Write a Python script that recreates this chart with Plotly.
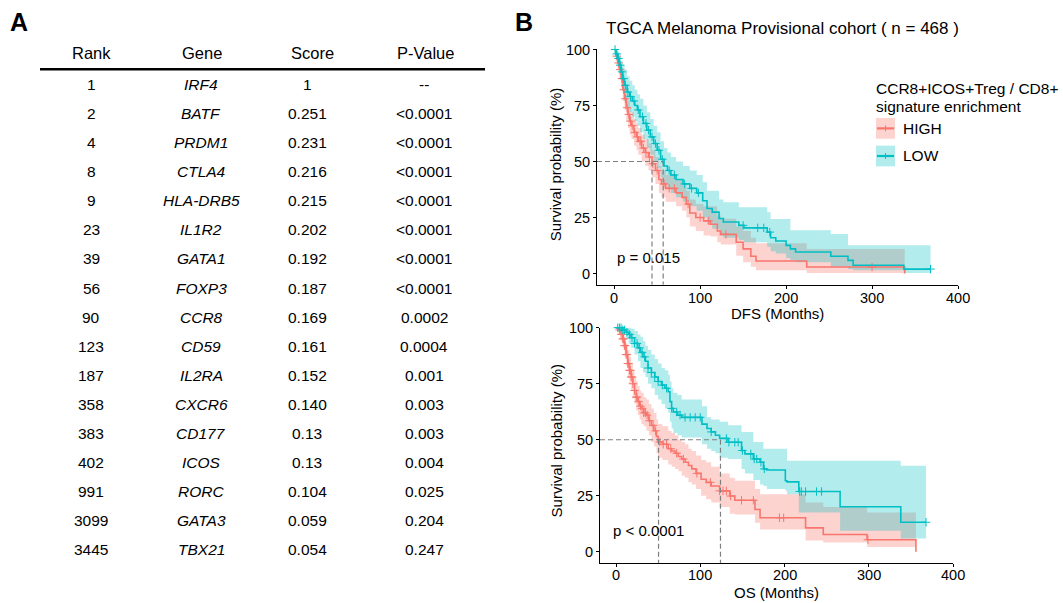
import numpy as np
import plotly.graph_objects as go

W, H = 1063, 603

# ---------------- Panel A : table ----------------
table_header = ["Rank", "Gene", "Score", "P-Value"]
ranks = ["1", "2", "4", "8", "9", "23", "39", "56", "90", "123", "187", "358", "383", "402", "991", "3099", "3445"]
genes = ["IRF4", "BATF", "PRDM1", "CTLA4", "HLA-DRB5", "IL1R2", "GATA1", "FOXP3", "CCR8", "CD59",
         "IL2RA", "CXCR6", "CD177", "ICOS", "RORC", "GATA3", "TBX21"]
scores = ["1", "0.251", "0.231", "0.216", "0.215", "0.202", "0.192", "0.187", "0.169", "0.161",
          "0.152", "0.140", "0.13", "0.13", "0.104", "0.059", "0.054"]
pvalues = ["--", "<0.0001", "<0.0001", "<0.0001", "<0.0001", "<0.0001", "<0.0001", "<0.0001",
           "0.0002", "0.0004", "0.001", "0.003", "0.003", "0.004", "0.025", "0.204", "0.247"]

# ---------------- Panel B : survival curves (values in %) ----------------
x_ticks = [0, 100, 200, 300, 400]
y_ticks = [0, 25, 50, 75, 100]

# DFS, HIGH group
dfs_high_t = [0, 2, 4, 6, 8, 10, 12, 14, 16, 18, 20, 23, 26, 28, 32, 36, 40, 44, 48, 52, 55, 60, 72, 79, 84, 88,
              95, 104, 112, 120, 124, 142, 150, 159, 165, 224, 338]
dfs_high_s = [100, 97, 94, 91, 87, 82, 78, 74, 71, 68, 66, 63, 61, 59, 56, 54, 52, 49, 46, 42, 40, 38, 36, 34, 31, 27,
              25, 23.5, 22, 19, 17.5, 14, 11, 7.7, 5.6, 2.9, 0]
dfs_high_up = [100, 99, 97, 94, 91, 87, 83, 80, 77, 74, 72, 69, 67, 65, 62, 60, 58, 55, 52, 48, 46, 44, 42, 40, 37, 33,
               31, 30, 30, 26, 24.5, 21, 19, 16, 13.5, 11, 11]
dfs_high_lo = [100, 95, 91, 87, 83, 77, 73, 68, 65, 62, 60, 57, 55, 53, 50, 48, 46, 43, 40, 36, 34, 32, 30, 28, 25, 21,
               19, 17, 16.5, 14, 13, 8, 5, 3, 1.5, 0.3, 0]
dfs_high_cens = [3, 5, 7, 9, 11, 13, 15, 17, 19, 21, 24, 27, 30, 31, 34, 37, 41, 45, 50, 58, 64, 70, 86, 100, 110, 130, 300]

# DFS, LOW group
dfs_low_t = [0, 2, 4, 6, 8, 10, 12, 15, 18, 21, 24, 27, 30, 34, 38, 42, 46, 50, 54, 58, 62, 66, 72, 80, 88, 96,
             103, 108, 114, 122, 127, 145, 151, 178, 182, 188, 200, 205, 211, 252, 272, 278, 337, 368]
dfs_low_s = [100, 98, 96, 93, 90, 87, 84, 81, 79, 77, 75, 73, 70, 67, 64, 61, 58, 55, 51, 48, 46, 44, 42, 40, 38, 36,
             32.5, 29, 27.4, 24.6, 23, 21.5, 20.4, 18.5, 16, 14.5, 12.6, 11, 9.6, 7.7, 5.9, 3.7, 2, 2]
dfs_low_up = [100, 100, 99, 97, 95, 93, 91, 88, 86, 84, 82, 80, 78, 75, 72, 69, 66, 63, 59, 56, 54, 52, 50, 48, 46, 44,
              40.7, 37, 37, 33, 31.8, 29.6, 29.6, 27.4, 24.4, 24.4, 24.4, 19.3, 19.3, 17.7, 12.6, 12.6, 12.6, 12.6]
dfs_low_lo = [100, 96, 93, 89, 85, 81, 77, 74, 72, 70, 68, 66, 63, 60, 56, 53, 50, 47, 43, 40, 38, 36, 34, 32, 30, 28,
              25, 22, 20, 17, 16, 15, 14, 12, 10, 9, 7, 6, 5, 3, 2, 1.5, 0.3, 0.3]
dfs_low_cens = [1, 3, 5, 7, 9, 11, 13, 16, 19, 23, 28, 33, 37, 40, 44, 48, 52, 56, 64, 70, 82, 90, 98,
                150, 167, 174, 181, 368]

# OS, HIGH group
os_high_t = [0, 3, 6, 8, 10, 12, 14, 16, 18, 20, 22, 24, 26, 28, 30, 33, 36, 39, 42, 45, 48, 50, 55, 62, 66, 70,
             74, 78, 82, 86, 90, 95, 101, 107, 113, 123, 135, 141, 165, 171, 225, 246, 298, 356]
os_high_s = [100, 99, 97, 95, 92, 88, 84, 81, 78, 75, 72, 69, 67, 65, 64, 62, 61, 58.5, 56.4, 54, 51.5, 49, 48, 46,
             45, 44, 42.5, 41.4, 40, 38.5, 37, 35, 32.4, 31, 29.4, 27.2, 24.9, 23, 18.9, 15.2, 10.7, 7.7, 5.4, 0]
os_high_up = [100, 100, 99, 98, 96, 93, 90, 87, 84, 81, 78, 76, 74, 72, 71, 69, 68, 66, 64, 62, 59, 57, 56, 54,
              53, 52, 50, 49, 48, 46, 45, 43, 41, 40, 38, 35, 33, 31.7, 28, 25.7, 22, 20, 17.6, 17.6]
os_high_lo = [100, 97, 94, 91, 87, 83, 78, 75, 72, 69, 66, 63, 61, 59, 57, 56, 54, 52, 49, 47, 44, 42, 41, 39,
              38, 37, 36, 34, 33, 31, 30, 28, 25, 23.5, 22, 20, 17, 16.7, 13, 10, 5, 4.2, 2.2, 2.2]
os_high_cens = [4, 6, 8, 9, 10, 11, 12, 13, 14, 15, 16, 17, 18, 19, 20, 22, 24, 25, 27, 29, 31, 33, 35, 37, 40,
                44, 47, 52, 56, 60, 65, 72, 80, 96, 112, 123, 127, 131, 136, 149, 163, 194, 199, 299]

# OS, LOW group
os_low_t = [0, 8, 12, 15, 18, 22, 26, 29, 32, 35, 38, 42, 46, 50, 54, 58, 62, 64, 66, 68, 73, 78, 102, 108, 113,
            118, 123, 133, 149, 153, 163, 171, 175, 179, 201, 203, 217, 266, 338, 368]
os_low_s = [100, 99, 98, 97, 95.5, 93, 91, 89, 87, 85, 82, 80, 78, 76, 74.4, 73, 71.4, 67, 64, 62.4, 61, 60, 57, 55,
            53.5, 52, 50.6, 48.9, 45.2, 43.7, 41.4, 40, 37, 36.5, 31.7, 31.2, 26.9, 20.1, 13.2, 13.2]
os_low_up = [100, 100, 100, 100, 99.5, 98.5, 97, 96, 94, 92, 90, 88, 86, 84, 82, 81, 79, 76, 73, 71, 70, 68, 65, 60,
             59, 59, 58, 56.5, 53.5, 53.5, 49, 49, 46, 46, 46, 40.6, 40.6, 40.6, 38.4, 38.4]
os_low_lo = [100, 97, 95, 93, 91, 88, 85, 82, 80, 78, 75, 73, 70, 68, 66, 64, 62, 58, 55, 53, 52, 51, 48, 46, 45,
             44, 42, 41.4, 37, 35, 32, 30, 29.4, 28, 27.2, 25.7, 17.6, 9.4, 6, 6]
os_low_cens = [2, 4, 6, 8, 10, 13, 16, 19, 22, 25, 28, 31, 34, 38, 42, 46, 50, 55, 60, 66, 72, 76, 82, 88, 94, 100,
               113, 131, 134, 141, 145, 150, 160, 164, 167, 172, 176, 218, 220, 225, 238, 244, 368]

# medians (months)
dfs_medians = [44, 57]
os_medians = [50.5, 124]

RED = "#F8766D"
TEAL = "#00BFC4"
RED_FILL = "rgba(248,118,109,0.32)"
TEAL_FILL = "rgba(0,191,196,0.30)"
FONT = "Arial, 'Liberation Sans', Helvetica, sans-serif"

# panel geometry (pixels)
DFS_X = (597, 958)
DFS_Y = (280.5, 42)    # bottom (-5), top (100)
OS_X = (600, 953)
OS_Y = (562.5, 324)
DFS_XR = [-20, 400]
OS_XR = [-19, 400]
YR = [-5, 100]


def px(x):
    return x / W


def py(y):
    return 1 - y / H


def step_at(t, s, c):
    idx = np.searchsorted(np.asarray(t), np.asarray(c), side="right") - 1
    return list(np.asarray(s)[idx])


fig = go.Figure()


def add_band(xa, ya, t, up, lo, fill):
    fig.add_trace(go.Scatter(x=t, y=lo, mode="lines", line=dict(width=0, shape="hv"),
                             xaxis=xa, yaxis=ya, hoverinfo="skip", showlegend=False))
    fig.add_trace(go.Scatter(x=t, y=up, mode="lines", line=dict(width=0, shape="hv"),
                             fill="tonexty", fillcolor=fill,
                             xaxis=xa, yaxis=ya, hoverinfo="skip", showlegend=False))


def add_curve(xa, ya, t, s, cens, color):
    fig.add_trace(go.Scatter(x=t, y=s, mode="lines", line=dict(width=1.6, color=color, shape="hv"),
                             xaxis=xa, yaxis=ya, showlegend=False))
    fig.add_trace(go.Scatter(x=cens, y=step_at(t, s, cens), mode="markers",
                             marker=dict(symbol="cross-thin", size=6, line=dict(width=1, color=color), color=color),
                             xaxis=xa, yaxis=ya, showlegend=False, cliponaxis=False))


# DFS panel
add_band("x", "y", dfs_high_t, dfs_high_up, dfs_high_lo, RED_FILL)
add_band("x", "y", dfs_low_t, dfs_low_up, dfs_low_lo, TEAL_FILL)
add_curve("x", "y", dfs_high_t, dfs_high_s, dfs_high_cens, RED)
add_curve("x", "y", dfs_low_t, dfs_low_s, dfs_low_cens, TEAL)

# OS panel
add_band("x2", "y2", os_high_t, os_high_up, os_high_lo, RED_FILL)
add_band("x2", "y2", os_low_t, os_low_up, os_low_lo, TEAL_FILL)
add_curve("x2", "y2", os_high_t, os_high_s, os_high_cens, RED)
add_curve("x2", "y2", os_low_t, os_low_s, os_low_cens, TEAL)

shapes = []
dash_style = dict(color="#7f7f7f", width=1.2, dash="5px,3px")
# median dashed lines
shapes.append(dict(type="line", xref="x", yref="y", x0=DFS_XR[0], x1=max(dfs_medians), y0=50, y1=50, line=dash_style))
for m in dfs_medians:
    shapes.append(dict(type="line", xref="x", yref="y", x0=m, x1=m, y0=50, y1=YR[0], line=dash_style))
shapes.append(dict(type="line", xref="x2", yref="y2", x0=OS_XR[0], x1=max(os_medians), y0=50, y1=50, line=dash_style))
for m in os_medians:
    shapes.append(dict(type="line", xref="x2", yref="y2", x0=m, x1=m, y0=50, y1=YR[0], line=dash_style))

# table rule
shapes.append(dict(type="line", xref="paper", yref="paper", x0=px(40), x1=px(485), y0=py(62), y1=py(62),
                   line=dict(color="black", width=2.6)))

# legend keys
for yc, col, fillc in [(122, RED, RED_FILL), (150, TEAL, TEAL_FILL)]:
    shapes.append(dict(type="rect", xref="paper", yref="paper", x0=px(876), x1=px(895), y0=py(yc - 10.5),
                       y1=py(yc + 10.5), line=dict(width=0), fillcolor=fillc))
    shapes.append(dict(type="line", xref="paper", yref="paper", x0=px(877), x1=px(894), y0=py(yc), y1=py(yc),
                       line=dict(color=col, width=2.2)))
    shapes.append(dict(type="line", xref="paper", yref="paper", x0=px(885.5), x1=px(885.5), y0=py(yc - 3),
                       y1=py(yc + 3), line=dict(color=col, width=1)))

ann = []


def text(x, y, s, size, xanchor="center", angle=0, xref="paper"):
    ann.append(dict(x=(px(x) if xref == "paper" else x), y=py(y), xref=xref, yref="paper", text=s,
                    showarrow=False, xanchor=xanchor, yanchor="middle", textangle=angle,
                    font=dict(family=FONT, size=size, color="black")))


def esc(s):
    return s.replace("<", "&lt;")


# panel letters
text(19, 14.5, "<b>A</b>", 25)
text(524, 14.5, "<b>B</b>", 25)

# table
col_x_head = [91, 202, 312, 425]
col_x_body = [91, 201, 307, 424]
for cx, h in zip(col_x_head, table_header):
    text(cx, 45.5, h, 16.5)
row_step = (549 - 77.5) / (len(ranks) - 1)
for i in range(len(ranks)):
    yy = 77.5 + row_step * i
    text(col_x_body[0], yy, ranks[i], 15.5)
    text(col_x_body[1], yy, "<i>" + genes[i] + "</i>", 15.5)
    text(col_x_body[2], yy, scores[i], 15.5)
    text(col_x_body[3], yy, esc(pvalues[i]), 15.5)

# x tick labels (placed under each axis)
for v in x_ticks:
    text(v, 293.5, str(v), 14.5, xref="x")
    text(v, 575, str(v), 14.5, xref="x2")

# panel B texts
text(604, 20.5, "TGCA Melanoma Provisional cohort ( n = 468 )", 17, xanchor="left")
text(555, (DFS_Y[0] + DFS_Y[1]) / 2 - 2, "Survival probability (%)", 15, angle=-90)
text(556, (OS_Y[0] + OS_Y[1]) / 2 - 4, "Survival probability (%)", 15, angle=-90)
text((DFS_X[0] + DFS_X[1]) / 2, 309.5, "DFS (Months)", 15)
text((OS_X[0] + OS_X[1]) / 2, 592.5, "OS (Months)", 15)
text(615, 253, "p = 0.015", 15, xanchor="left")
text(611, 530, esc("p < 0.0001"), 15, xanchor="left")
text(874, 82, "CCR8+ICOS+Treg / CD8+", 15.5, xanchor="left")
text(874, 100, "signature enrichment", 15.5, xanchor="left")
text(901, 122, "HIGH", 15.5, xanchor="left")
text(901, 149, "LOW", 15.5, xanchor="left")

axis_common = dict(showline=True, linecolor="black", linewidth=1, ticks="outside", ticklen=3,
                   tickcolor="black", tickwidth=1, showgrid=False, zeroline=False,
                   tickfont=dict(family=FONT, size=14.5, color="black"), fixedrange=True)

fig.update_layout(
    width=W, height=H, margin=dict(l=0, r=0, t=0, b=0),
    paper_bgcolor="white", plot_bgcolor="white", showlegend=False,
    shapes=shapes, annotations=ann,
    xaxis=dict(domain=[px(DFS_X[0]), px(DFS_X[1])], range=DFS_XR, tickvals=x_ticks, showticklabels=False,
               anchor="y", **axis_common),
    yaxis=dict(domain=[py(DFS_Y[0]), py(DFS_Y[1])], range=YR, tickvals=y_ticks,
               anchor="x", **axis_common),
    xaxis2=dict(domain=[px(OS_X[0]), px(OS_X[1])], range=OS_XR, tickvals=x_ticks, showticklabels=False,
                anchor="y2", **axis_common),
    yaxis2=dict(domain=[py(OS_Y[0]), py(OS_Y[1])], range=YR, tickvals=y_ticks,
                anchor="x2", **axis_common),
)

fig.write_html("out.html", config={"displayModeBar": False},
               post_script="document.body.style.margin='0px';document.body.style.overflow='hidden';")
